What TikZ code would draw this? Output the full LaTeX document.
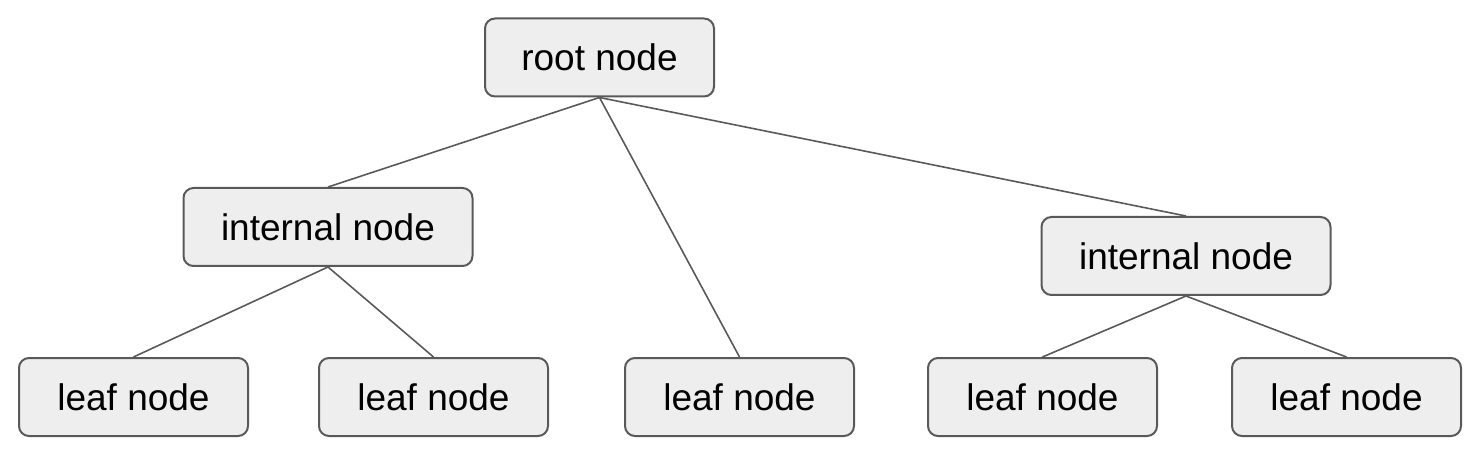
\documentclass[tikz,border=0pt]{standalone}
\usepackage{fontspec}
\setmainfont{Liberation Sans}
\definecolor{boxfill}{HTML}{EEEEEE}
\definecolor{boxline}{HTML}{595959}
\begin{document}
\begin{tikzpicture}[x=1pt, y=-1pt,
    treebox/.style={draw=boxline, fill=boxfill, line width=2pt, rounded corners=10pt,
        minimum height=78pt, text=black, font=\fontsize{37}{44}\selectfont},
    leafbox/.style={treebox, minimum width=229pt},
    innerbox/.style={treebox, minimum width=289pt},
    branch/.style={draw=boxline, line width=1.6pt}]
    % Fix the page to the reference size
    \useasboundingbox (0,0) rectangle (1480,462);

    % Then add all the boxes
    \node[treebox, minimum width=229pt] (root) at (599.5,57.5) {root node};
    \node[innerbox] (inleft) at (328,227) {internal node};
    \node[innerbox] (inright) at (1186,256) {internal node};
    \node[leafbox] (leafa) at (133.5,397) {leaf node};
    \node[leafbox] (leafb) at (433.5,397) {leaf node};
    \node[leafbox] (leafc) at (739.5,397) {leaf node};
    \node[leafbox] (leafd) at (1042.5,397) {leaf node};
    \node[leafbox] (leafe) at (1346.5,397) {leaf node};

    % Then the branches between them
    \draw[branch] (root.south) -- (inleft.north);
    \draw[branch] (root.south) -- (leafc.north);
    \draw[branch] (root.south) -- (inright.north);
    \draw[branch] (inleft.south) -- (leafa.north);
    \draw[branch] (inleft.south) -- (leafb.north);
    \draw[branch] (inright.south) -- (leafd.north);
    \draw[branch] (inright.south) -- (leafe.north);
\end{tikzpicture}
\end{document}
